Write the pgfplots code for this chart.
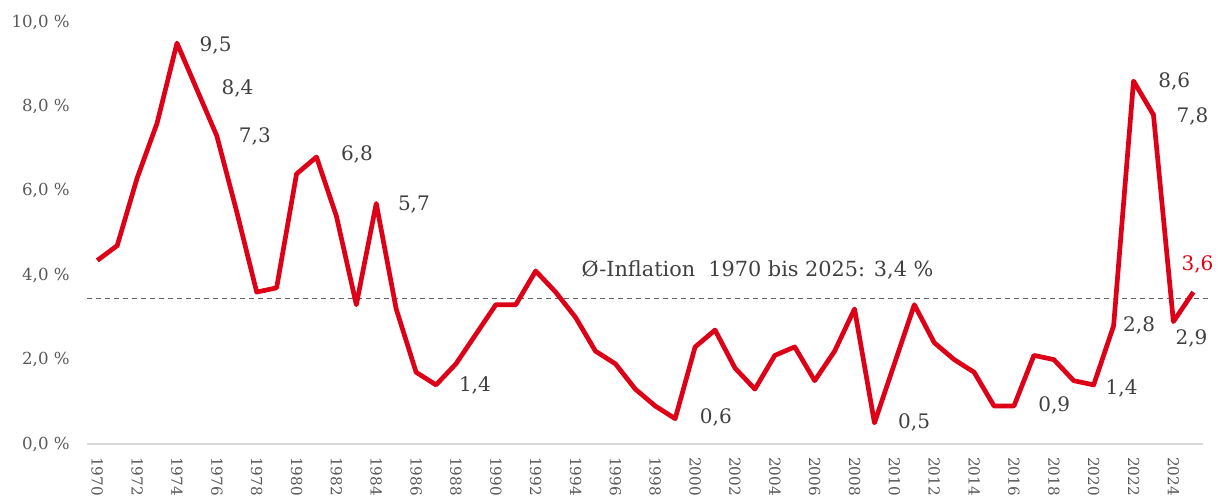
\documentclass[border=0pt]{standalone}
\usepackage{fontspec}
\setmainfont{DejaVu Serif}
\usepackage{pgfplots}
\pgfplotsset{compat=1.18}
\definecolor{infred}{RGB}{222,0,22}
\definecolor{axisgray}{RGB}{217,217,217}
\definecolor{ticktext}{RGB}{89,89,89}
\definecolor{labtext}{RGB}{64,64,64}
\definecolor{dashgray}{RGB}{100,100,100}
\pgfplotstableread{
year val
1970 4.35
1971 4.7
1972 6.3
1973 7.6
1974 9.5
1975 8.4
1976 7.3
1977 5.5
1978 3.6
1979 3.7
1980 6.4
1981 6.8
1982 5.4
1983 3.3
1984 5.7
1985 3.2
1986 1.7
1987 1.4
1988 1.9
1989 2.6
1990 3.3
1991 3.3
1992 4.1
1993 3.6
1994 3.0
1995 2.2
1996 1.9
1997 1.3
1998 0.9
1999 0.6
2000 2.3
2001 2.7
2002 1.8
2003 1.3
2004 2.1
2005 2.3
2006 1.5
2007 2.2
2008 3.2
2009 0.5
2010 1.9
2011 3.3
2012 2.4
2013 2.0
2014 1.7
2015 0.9
2016 0.9
2017 2.1
2018 2.0
2019 1.5
2020 1.4
2021 2.8
2022 8.6
2023 7.8
2024 2.9
2025 3.6
}\inflation
\begin{document}
\begin{tikzpicture}
\begin{axis}[
  scale only axis, width=558pt, height=211pt,
  xmin=1969.5, xmax=2025.5, ymin=0, ymax=10,
  axis line style={draw=none},
  major tick length=0pt,
  xtick={1970,1972,...,2024},
  xticklabels={1970,1972,1974,1976,1978,1980,1982,1984,1986,1988,1990,1992,1994,1996,1998,2000,2002,2004,2006,2008,2010,2012,2014,2016,2018,2020,2022,2024},
  ytick={0,2,4,6,8,10},
  yticklabels={{0,0 \%},{2,0 \%},{4,0 \%},{6,0 \%},{8,0 \%},{10,0 \%}},
  xticklabel style={rotate=-90, anchor=west, font=\fontsize{7.6}{9}\selectfont, text=ticktext},
  yticklabel style={font=\fontsize{8.3}{10}\selectfont, text=ticktext},
  xticklabel shift=3pt,
  yticklabel shift=5.3pt,
  clip=false,
]
\addplot[draw=axisgray, line width=0.65pt] coordinates {(1969.5,0) (2025.5,0)};
\addplot[draw=dashgray, line width=0.5pt, dash pattern=on 2.5pt off 2pt] coordinates {(1969.5,3.44) (2025.8,3.44)};
\addplot[draw=infred, line width=2.35pt, line join=round, mark=none] table[x=year, y=val] {\inflation};
\begin{scope}[every node/.style={font=\fontsize{10}{12}\selectfont, text=labtext, inner sep=0pt, anchor=center}]
\node at (axis cs:1975.94,9.45) {9,5};
\node at (axis cs:1977.04,8.42) {8,4};
\node at (axis cs:1977.91,7.28) {7,3};
\node at (axis cs:1983.03,6.86) {6,8};
\node at (axis cs:1985.89,5.67) {5,7};
\node at (axis cs:1988.95,1.38) {1,4};
\node at (axis cs:2001.04,0.62) {0,6};
\node at (axis cs:2010.99,0.51) {0,5};
\node at (axis cs:2018.02,0.91) {0,9};
\node at (axis cs:2021.40,1.31) {1,4};
\node at (axis cs:2022.28,2.80) {2,8};
\node at (axis cs:2024.04,8.59) {8,6};
\node at (axis cs:2024.96,7.76) {7,8};
\node at (axis cs:2024.91,2.51) {2,9};
\node[text=infred] at (axis cs:2025.21,4.25) {3,6};
\node[font=\fontsize{10.4}{12}\selectfont] at (axis cs:2003.13,4.13) {Ø-Inflation\ \ 1970 bis 2025: 3,4 \%};
\end{scope}
\end{axis}
\pgfresetboundingbox
\path[use as bounding box] (-43.65pt,-26pt) rectangle (567.35pt,222pt);
\end{tikzpicture}
\end{document}
